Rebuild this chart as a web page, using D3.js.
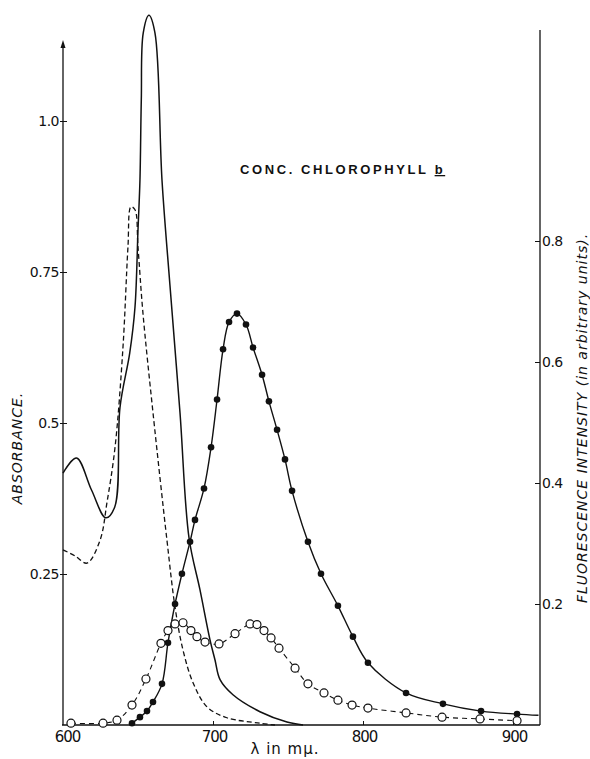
<!DOCTYPE html>
<html>
<head>
<meta charset="utf-8">
<script src="https://cdn.jsdelivr.net/npm/d3@7"></script>
<style>
    body { margin: 0; background: #fff; }
    svg { display: block; }
    text { fill: #111; }
</style>
</head>
<body>
<div id="graph"></div>
<script>
// absorbance, solid curve
var absSolidWl = [600, 609, 619, 628.5, 634.5, 638, 644.5, 648, 650, 651.3, 652.2, 653.5, 657.3, 661.3, 666, 671.3, 678, 684, 691.3, 698, 701.3, 704.7, 713.3, 731.3, 749.3, 760];
var absSolidVal = [0.417, 0.442, 0.389, 0.343, 0.361, 0.526, 0.616, 0.692, 0.82, 0.902, 1.035, 1.146, 1.175, 1.146, 0.902, 0.728, 0.517, 0.31, 0.224, 0.141, 0.108, 0.075, 0.05, 0.022, 0.005, 0];

// absorbance, dashed curve
var absDashWl = [600, 608, 616, 624.7, 629.3, 634.7, 640, 643.3, 645.3, 648, 650, 653.3, 660, 669.3, 674.7, 680, 686.7, 696, 709.3, 731.3, 741.3];
var absDashVal = [0.29, 0.28, 0.268, 0.306, 0.368, 0.46, 0.626, 0.791, 0.858, 0.853, 0.791, 0.682, 0.517, 0.306, 0.195, 0.124, 0.07, 0.03, 0.012, 0.003, 0];

// fluorescence, filled points
var fluorFilledWl = [646, 651.3, 656, 660, 666, 670, 674.7, 679.3, 684.7, 688, 694, 698.7, 702.7, 706.7, 710.7, 716, 722, 726.7, 732.7, 737.3, 742.7, 748, 752.7, 763.3, 772, 783.3, 793.3, 803.3, 828.7, 853.3, 878.7, 902.7];
var fluorFilledVal = [0.003, 0.013, 0.023, 0.038, 0.068, 0.136, 0.2, 0.25, 0.303, 0.339, 0.391, 0.459, 0.538, 0.621, 0.666, 0.68, 0.662, 0.624, 0.579, 0.535, 0.488, 0.439, 0.387, 0.303, 0.25, 0.197, 0.146, 0.103, 0.053, 0.035, 0.023, 0.018];
var fluorFilledTail = [[917, 0.016]];

// fluorescence, open points
var fluorOpenWl = [605.3, 626.7, 636, 646, 655.3, 665.3, 670, 674.7, 680, 685.3, 689.3, 694.7, 704, 714.7, 724.7, 729.3, 734, 738.7, 744, 754.7, 763.3, 774, 783.3, 792.7, 803.3, 828.7, 852.7, 878, 902.7];
var fluorOpenVal = [0.003, 0.003, 0.008, 0.033, 0.076, 0.135, 0.156, 0.167, 0.169, 0.156, 0.146, 0.137, 0.134, 0.151, 0.167, 0.166, 0.156, 0.144, 0.127, 0.094, 0.068, 0.053, 0.041, 0.033, 0.028, 0.02, 0.013, 0.01, 0.007];

var xTicks = [600, 700, 800, 900];
var absTicks = [0.25, 0.5, 0.75, 1.0];
var absTickLabels = ["0.25", "0.5", "0.75", "1.0"];
var fluorTicks = [0.2, 0.4, 0.6, 0.8];
var fluorTickLabels = ["0.2", "0.4", "0.6", "0.8"];

var width = 590, height = 759;

var svg = d3.select("#graph")
    .append("svg")
    .attr("width", width)
    .attr("height", height);

var x = d3.scaleLinear().domain([600, 918]).range([63, 540]);
var yA = d3.scaleLinear().domain([0, 1]).range([725, 121]);
var yF = d3.scaleLinear().domain([0, 1]).range([725, 120]);

function zip(a, b) {
    return a.map(function (d, i) { return [d, b[i]]; });
}

var absSolid = zip(absSolidWl, absSolidVal);
var absDash = zip(absDashWl, absDashVal);
var filled = zip(fluorFilledWl, fluorFilledVal);
var open = zip(fluorOpenWl, fluorOpenVal);

var lineA = d3.line()
    .x(function (d) { return x(d[0]); })
    .y(function (d) { return yA(d[1]); })
    .curve(d3.curveCatmullRom.alpha(0.5));
var lineF = d3.line()
    .x(function (d) { return x(d[0]); })
    .y(function (d) { return yF(d[1]); })
    .curve(d3.curveCatmullRom.alpha(0.5));

// left axis (absorbance) with arrow on top
svg.append("line")
    .attr("x1", x(600)).attr("x2", x(600))
    .attr("y1", yA(0)).attr("y2", 44)
    .attr("stroke", "#111").attr("stroke-width", 1.3);
svg.append("path")
    .attr("d", "M" + x(600) + ",40 l-2.5,8 l5,0 z")
    .attr("fill", "#111");

var leftAxis = svg.append("g")
    .attr("class", "yaxis")
    .attr("transform", "translate(" + x(600) + ",0)")
    .call(d3.axisLeft(yA).tickValues(absTicks).tickSize(4).tickSizeOuter(0)
        .tickFormat(function (d, i) { return absTickLabels[i]; }));
leftAxis.select(".domain").remove();
leftAxis.selectAll("line").attr("x2", 4).attr("x1", -3).attr("stroke", "#111");
leftAxis.selectAll("text")
    .attr("x", -4)
    .style("font-family", "DejaVu Sans")
    .style("font-size", "14px")
    .style("letter-spacing", "-0.5px");

// right axis (fluorescence)
svg.append("line")
    .attr("x1", x(918)).attr("x2", x(918))
    .attr("y1", yF(0)).attr("y2", 30)
    .attr("stroke", "#111").attr("stroke-width", 1.3);

var rightAxis = svg.append("g")
    .attr("class", "yaxis2")
    .attr("transform", "translate(" + x(918) + ",0)")
    .call(d3.axisRight(yF).tickValues(fluorTicks).tickSize(4).tickSizeOuter(0)
        .tickFormat(function (d, i) { return fluorTickLabels[i]; }));
rightAxis.select(".domain").remove();
rightAxis.selectAll("line").attr("x1", -5).attr("x2", 0).attr("stroke", "#111");
rightAxis.selectAll("text")
    .attr("x", 2)
    .style("font-family", "DejaVu Sans")
    .style("font-size", "14px")
    .style("letter-spacing", "-0.5px");

// bottom axis
svg.append("line")
    .attr("x1", x(600) - 1).attr("x2", x(918))
    .attr("y1", yA(0)).attr("y2", yA(0))
    .attr("stroke", "#111").attr("stroke-width", 1.3);

var bottomAxis = svg.append("g")
    .attr("class", "xaxis")
    .attr("transform", "translate(0," + yA(0) + ")")
    .call(d3.axisBottom(x).tickValues(xTicks).tickSize(0).tickSizeOuter(0).tickFormat(d3.format("d")));
bottomAxis.select(".domain").remove();
bottomAxis.selectAll("line")
    .attr("y1", 0).attr("y2", function (d) { return d == 600 ? 0 : -4; })
    .attr("stroke", "#111");
bottomAxis.selectAll("text")
    .attr("y", 6)
    .attr("dx", function (d) { return d == 600 ? 4 : 1; })
    .style("font-family", "DejaVu Sans")
    .style("font-size", "15px")
    .style("letter-spacing", "-1px");

// absorbance curves
svg.append("path")
    .datum(absSolid)
    .attr("d", lineA)
    .attr("fill", "none")
    .attr("stroke", "#111")
    .attr("stroke-width", 1.5);

svg.append("path")
    .datum(absDash)
    .attr("d", lineA)
    .attr("fill", "none")
    .attr("stroke", "#111")
    .attr("stroke-width", 1.3)
    .attr("stroke-dasharray", "5,3");

// fluorescence curves
svg.append("path")
    .datum(filled.concat(fluorFilledTail))
    .attr("d", lineF)
    .attr("fill", "none")
    .attr("stroke", "#111")
    .attr("stroke-width", 1.4);

svg.append("path")
    .datum(open)
    .attr("d", lineF)
    .attr("fill", "none")
    .attr("stroke", "#111")
    .attr("stroke-width", 1.1)
    .attr("stroke-dasharray", "5,4");

svg.selectAll(".filledDot")
    .data(filled)
    .enter()
    .append("circle")
    .attr("class", "filledDot")
    .attr("cx", function (d) { return x(d[0]); })
    .attr("cy", function (d) { return yF(d[1]); })
    .attr("r", 3.3)
    .attr("fill", "#111");

svg.selectAll(".openDot")
    .data(open)
    .enter()
    .append("circle")
    .attr("class", "openDot")
    .attr("cx", function (d) { return x(d[0]); })
    .attr("cy", function (d) { return yF(d[1]); })
    .attr("r", 4)
    .attr("fill", "#fff")
    .attr("stroke", "#111")
    .attr("stroke-width", 1.2);

// titles
var title = svg.append("text")
    .attr("x", 240)
    .attr("y", 174)
    .style("font-family", "Liberation Sans")
    .style("font-weight", "bold")
    .style("font-size", "13px")
    .style("letter-spacing", "2.6px")
    .text("CONC.  CHLOROPHYLL  ");
title.append("tspan")
    .style("text-decoration", "underline")
    .text("b");

svg.append("text")
    .attr("transform", "translate(22,448) rotate(-90)")
    .style("text-anchor", "middle")
    .style("font-family", "DejaVu Sans")
    .style("font-style", "italic")
    .style("font-size", "14px")
    .style("letter-spacing", "1px")
    .text("ABSORBANCE.");

svg.append("text")
    .attr("transform", "translate(587,418) rotate(-90)")
    .style("text-anchor", "middle")
    .style("font-family", "DejaVu Sans")
    .style("font-style", "italic")
    .style("font-size", "14px")
    .style("letter-spacing", "1px")
    .text("FLUORESCENCE  INTENSITY  (in arbitrary units).");

svg.append("text")
    .attr("x", 285)
    .attr("y", 754)
    .style("text-anchor", "middle")
    .style("font-family", "DejaVu Sans")
    .style("font-size", "15px")
    .style("letter-spacing", "1px")
    .text("\u03bb in m\u03bc.");
</script>
</body>
</html>
